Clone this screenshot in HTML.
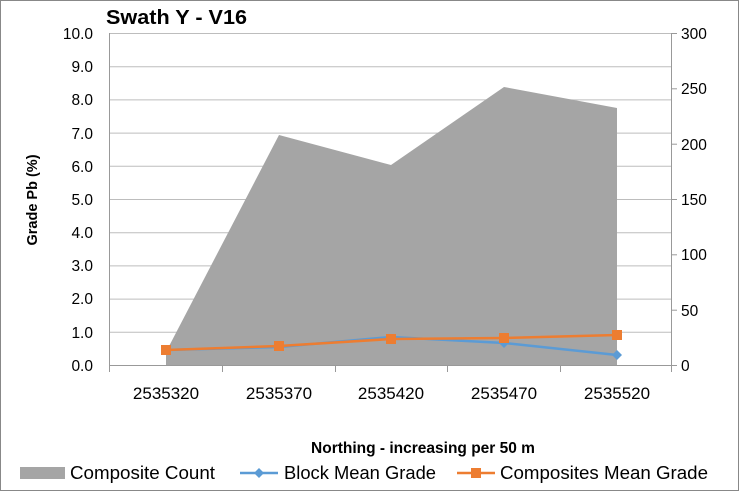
<!DOCTYPE html>
<html><head><style>
body{margin:0;background:#fff;}
svg{display:block;font-family:"Liberation Sans",sans-serif;}
</style></head><body>
<svg width="739" height="491" viewBox="0 0 739 491">
<rect x="0.5" y="0.5" width="738" height="490" fill="#fff" stroke="#888"/>
<text x="106" y="24" font-size="20.5" font-weight="bold" textLength="141" lengthAdjust="spacingAndGlyphs">Swath Y - V16</text>
<g stroke="#bdbdbd" stroke-width="1">
<line x1="109" y1="33.5" x2="671" y2="33.5"/>
<line x1="109" y1="66.7" x2="671" y2="66.7"/>
<line x1="109" y1="99.9" x2="671" y2="99.9"/>
<line x1="109" y1="133.1" x2="671" y2="133.1"/>
<line x1="109" y1="166.3" x2="671" y2="166.3"/>
<line x1="109" y1="199.5" x2="671" y2="199.5"/>
<line x1="109" y1="232.7" x2="671" y2="232.7"/>
<line x1="109" y1="265.9" x2="671" y2="265.9"/>
<line x1="109" y1="299.1" x2="671" y2="299.1"/>
<line x1="109" y1="332.3" x2="671" y2="332.3"/>
</g>
<polygon points="166,365 166,352 279,135 391,165 504,87 617,108 617,365" fill="#a5a5a5"/>
<g stroke="#999" stroke-width="1">
<line x1="109.5" y1="33" x2="109.5" y2="372"/>
<line x1="671.5" y1="33" x2="671.5" y2="372"/>
<line x1="109" y1="365.5" x2="671" y2="365.5"/>
<line x1="222.5" y1="365" x2="222.5" y2="372"/>
<line x1="335.5" y1="365" x2="335.5" y2="372"/>
<line x1="447.5" y1="365" x2="447.5" y2="372"/>
<line x1="560.5" y1="365" x2="560.5" y2="372"/>
<line x1="671" y1="33.5" x2="677" y2="33.5"/>
<line x1="671" y1="88.8" x2="677" y2="88.8"/>
<line x1="671" y1="144.2" x2="677" y2="144.2"/>
<line x1="671" y1="199.5" x2="677" y2="199.5"/>
<line x1="671" y1="254.8" x2="677" y2="254.8"/>
<line x1="671" y1="310.2" x2="677" y2="310.2"/>
<line x1="671" y1="365.5" x2="677" y2="365.5"/>
</g>
<g font-size="15.5" text-anchor="end" fill="#000">
<text x="93" y="39">10.0</text><text x="93" y="72">9.0</text><text x="93" y="105">8.0</text>
<text x="93" y="139">7.0</text><text x="93" y="172">6.0</text><text x="93" y="205">5.0</text>
<text x="93" y="238">4.0</text><text x="93" y="271">3.0</text><text x="93" y="304">2.0</text>
<text x="93" y="338">1.0</text><text x="93" y="371">0.0</text>
</g>
<g font-size="15.5" fill="#000">
<text x="681" y="39">300</text><text x="681" y="94">250</text><text x="681" y="150">200</text>
<text x="681" y="205">150</text><text x="681" y="260">100</text><text x="681" y="316">50</text>
<text x="681" y="371">0</text>
</g>
<g font-size="17" text-anchor="middle">
<text x="166" y="399">2535320</text><text x="279" y="399">2535370</text><text x="391" y="399">2535420</text>
<text x="504" y="399">2535470</text><text x="617" y="399">2535520</text>
</g>
<text transform="translate(37,200) rotate(-90)" font-size="14.5" font-weight="bold" text-anchor="middle">Grade Pb (%)</text>
<text x="423" y="453" font-size="15.5" font-weight="bold" text-anchor="middle">Northing - increasing per 50 m</text>
<polyline points="166,350 279,347 391,337 504,343 617,355" fill="none" stroke="#5b9bd5" stroke-width="2.5"/>
<g fill="#5b9bd5"><path d="M504,338 l5,5 -5,5 -5,-5z"/><path d="M617,350 l5,5 -5,5 -5,-5z"/></g>
<polyline points="166,350 279,346 391,339 504,338 617,335" fill="none" stroke="#ed7d31" stroke-width="2.5"/>
<g fill="#ed7d31"><rect x="161" y="345" width="10" height="10"/><rect x="274" y="341" width="10" height="10"/><rect x="386" y="334" width="10" height="10"/><rect x="499" y="333" width="10" height="10"/><rect x="612" y="330" width="10" height="10"/></g>
<rect x="20" y="467" width="45" height="12" fill="#a5a5a5"/>
<text x="70" y="479" font-size="18" textLength="145" lengthAdjust="spacingAndGlyphs">Composite Count</text>
<line x1="240" y1="473" x2="278" y2="473" stroke="#5b9bd5" stroke-width="2.5"/>
<path d="M259,468 l5,5 -5,5 -5,-5z" fill="#5b9bd5"/>
<text x="284" y="479" font-size="18" textLength="152" lengthAdjust="spacingAndGlyphs">Block Mean Grade</text>
<line x1="457" y1="473" x2="495" y2="473" stroke="#ed7d31" stroke-width="2.5"/>
<rect x="471" y="468" width="10" height="10" fill="#ed7d31"/>
<text x="500" y="479" font-size="18" textLength="208" lengthAdjust="spacingAndGlyphs">Composites Mean Grade</text>
</svg>
</body></html>
